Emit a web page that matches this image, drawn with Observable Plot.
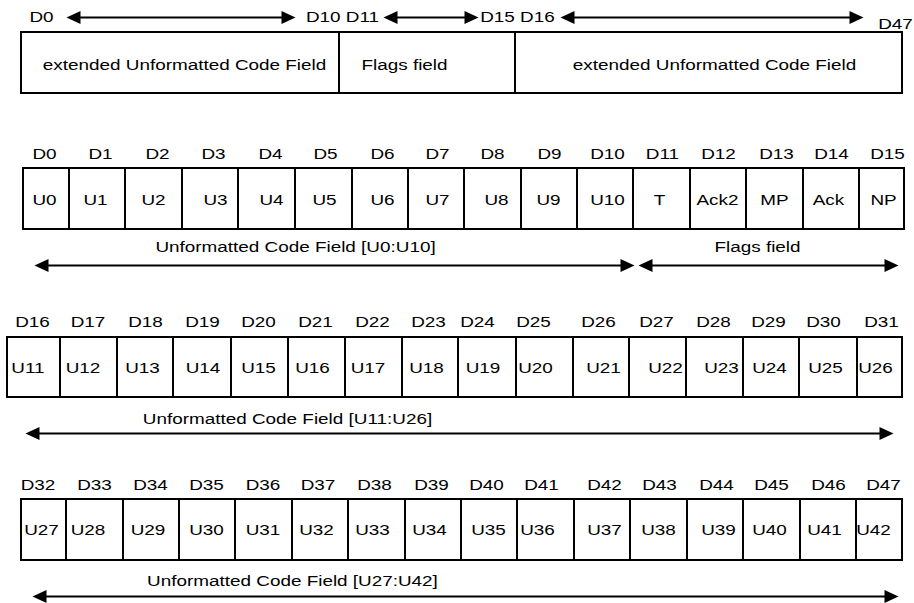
<!DOCTYPE html>
<html><head><meta charset="utf-8">
<script src="https://cdn.jsdelivr.net/npm/d3@7"></script>
<script src="https://cdn.jsdelivr.net/npm/@observablehq/plot@0.6"></script>
<style>
html,body{margin:0;padding:0;background:#fff;}
#chart svg{display:block;}
</style></head><body><div id="chart"></div>
<script>
// ---- Top overview: 48-bit word split into fields ----
const topBits = ["D0", "D10 D11", "D15 D16", "D47"];
const topBitX = [41, 342, 517, 895];
const topBitY = [17, 17, 17, 23.5];
const topFieldNames = ["extended Unformatted Code Field", "Flags field", "extended Unformatted Code Field"];
const topFieldEdges = [21, 339, 515, 902];
const topFieldTextX = [184, 404, 714];
const topArrowFrom = [66, 383, 560];
const topArrowTo = [295, 478, 863];
const topBox = [32, 93];      // y top / bottom
const topFieldTextY = 65;

// ---- Row 1: D0..D15 ----
const row1Bits = ["D0","D1","D2","D3","D4","D5","D6","D7","D8","D9","D10","D11","D12","D13","D14","D15"];
const row1BitX = [44,100,157,213,270,325,382,437,492,549,607,662,718,776,831,887];
const row1Cells = ["U0","U1","U2","U3","U4","U5","U6","U7","U8","U9","U10","T","Ack2","MP","Ack","NP"];
const row1CellX = [44,95,153,215,271,324,382,437,496,548,607,659,717,774,828,883];
const row1Edges = [23,69,125,182,238,295,352,408,464,521,577,633,690,746,803,859,904];
const row1Captions = ["Unformatted Code Field [U0:U10]", "Flags field"];
const row1CaptionX = [295, 757];
const row1ArrowFrom = [34, 638];
const row1ArrowTo = [634, 898];

// ---- Row 2: D16..D31 ----
const row2Bits = ["D16","D17","D18","D19","D20","D21","D22","D23","D24","D25","D26","D27","D28","D29","D30","D31"];
const row2BitX = [32,87.5,145,202,258,315,372,428,477,533,598,656,713,768,823,881];
const row2Cells = ["U11","U12","U13","U14","U15","U16","U17","U18","U19","U20","U21","U22","U23","U24","U25","U26"];
const row2CellX = [27.5,82.5,142,202.5,258,312,367.5,426,482.5,535,603,665,721,769,825,875];
const row2Edges = [7,60,117,173,231,288,345,402,458,516,573,629,686,743,799,857,902];
const row2Captions = ["Unformatted Code Field [U11:U26]"];
const row2CaptionX = [287];
const row2ArrowFrom = [25];
const row2ArrowTo = [893];

// ---- Row 3: D32..D47 ----
const row3Bits = ["D32","D33","D34","D35","D36","D37","D38","D39","D40","D41","D42","D43","D44","D45","D46","D47"];
const row3BitX = [37.5,94,150,206,262.5,317.5,374,431,486,541,604,659,716,771,828,883];
const row3Cells = ["U27","U28","U29","U30","U31","U32","U33","U34","U35","U36","U37","U38","U39","U40","U41","U42"];
const row3CellX = [41,87.5,147.5,206,262.5,316,372,429,488,537,604,658,718,769,824,873];
const row3Edges = [21,66,123,179,235,292,348,405,461,517,574,630,687,743,800,856,902];
const row3Captions = ["Unformatted Code Field [U27:U42]"];
const row3CaptionX = [292];
const row3ArrowFrom = [32];
const row3ArrowTo = [898];

// vertical layout of the three detail rows
const rowBitY = [154, 322, 485];
const rowTop = [168, 337, 499];
const rowBottom = [229, 397, 560];
const rowCellTextY = [200, 368, 530];
const rowCaptionY = [247, 419, 581];
const rowArrowY = [265, 433, 596];

// ---- build tables ----
const rows = [
  {bits: row1Bits, bitX: row1BitX, cells: row1Cells, cellX: row1CellX, edges: row1Edges, caps: row1Captions, capX: row1CaptionX, af: row1ArrowFrom, at: row1ArrowTo},
  {bits: row2Bits, bitX: row2BitX, cells: row2Cells, cellX: row2CellX, edges: row2Edges, caps: row2Captions, capX: row2CaptionX, af: row2ArrowFrom, at: row2ArrowTo},
  {bits: row3Bits, bitX: row3BitX, cells: row3Cells, cellX: row3CellX, edges: row3Edges, caps: row3Captions, capX: row3CaptionX, af: row3ArrowFrom, at: row3ArrowTo}
];

const boxes = [];
const labels = [];
const arrows = [];

topFieldNames.forEach((name, i) => {
  boxes.push({x1: topFieldEdges[i], x2: topFieldEdges[i + 1], y1: topBox[0], y2: topBox[1]});
  labels.push({text: name, x: topFieldTextX[i], y: topFieldTextY});
});
topBits.forEach((b, i) => labels.push({text: b, x: topBitX[i], y: topBitY[i]}));
topArrowFrom.forEach((f, i) => arrows.push({x1: f, x2: topArrowTo[i], y: topBitY[0]}));

rows.forEach((r, k) => {
  r.cells.forEach((c, i) => {
    boxes.push({x1: r.edges[i], x2: r.edges[i + 1], y1: rowTop[k], y2: rowBottom[k]});
    labels.push({text: c, x: r.cellX[i], y: rowCellTextY[k]});
  });
  r.bits.forEach((b, i) => labels.push({text: b, x: r.bitX[i], y: rowBitY[k]}));
  r.caps.forEach((c, i) => labels.push({text: c, x: r.capX[i], y: rowCaptionY[k]}));
  r.af.forEach((f, i) => arrows.push({x1: f, x2: r.at[i], y: rowArrowY[k]}));
});

const HEAD = 14, HALF = 6.5;
const headRight = {draw(ctx) { ctx.moveTo(0, 0); ctx.lineTo(-HEAD, -HALF); ctx.lineTo(-HEAD, HALF); ctx.closePath(); }};
const headLeft = {draw(ctx) { ctx.moveTo(0, 0); ctx.lineTo(HEAD, -HALF); ctx.lineTo(HEAD, HALF); ctx.closePath(); }};

const chart = Plot.plot({
  width: 914,
  height: 603,
  margin: 0,
  x: {domain: [0, 914], range: [0, 914], axis: null},
  y: {domain: [0, 603], range: [0, 603], axis: null},
  style: {fontFamily: "Arial, 'Liberation Sans', sans-serif", fontSize: "15.5px", background: "white", color: "black"},
  marks: [
    Plot.rect(boxes, {x1: "x1", x2: "x2", y1: "y1", y2: "y2", fill: "none", stroke: "black", strokeWidth: 2}),
    Plot.link(arrows, {x1: d => d.x1 + 6, x2: d => d.x2 - 6, y1: "y", y2: "y", stroke: "black", strokeWidth: 2}),
    Plot.dot(arrows, {x: "x1", y: "y", symbol: headLeft, fill: "black", stroke: "none"}),
    Plot.dot(arrows, {x: "x2", y: "y", symbol: headRight, fill: "black", stroke: "none"}),
    Plot.text(labels, {x: "x", y: "y", text: "text", fontSize: 15.5, fill: "black"})
  ]
});

// slight horizontal stretch of glyphs to match the reference lettering
const S = 1.22;
chart.querySelectorAll("text").forEach(t => {
  const tr = t.getAttribute("transform");
  if (tr) t.setAttribute("transform", `${tr} scale(${S},1)`);
});

document.getElementById("chart").appendChild(chart);
</script>
</body></html>
